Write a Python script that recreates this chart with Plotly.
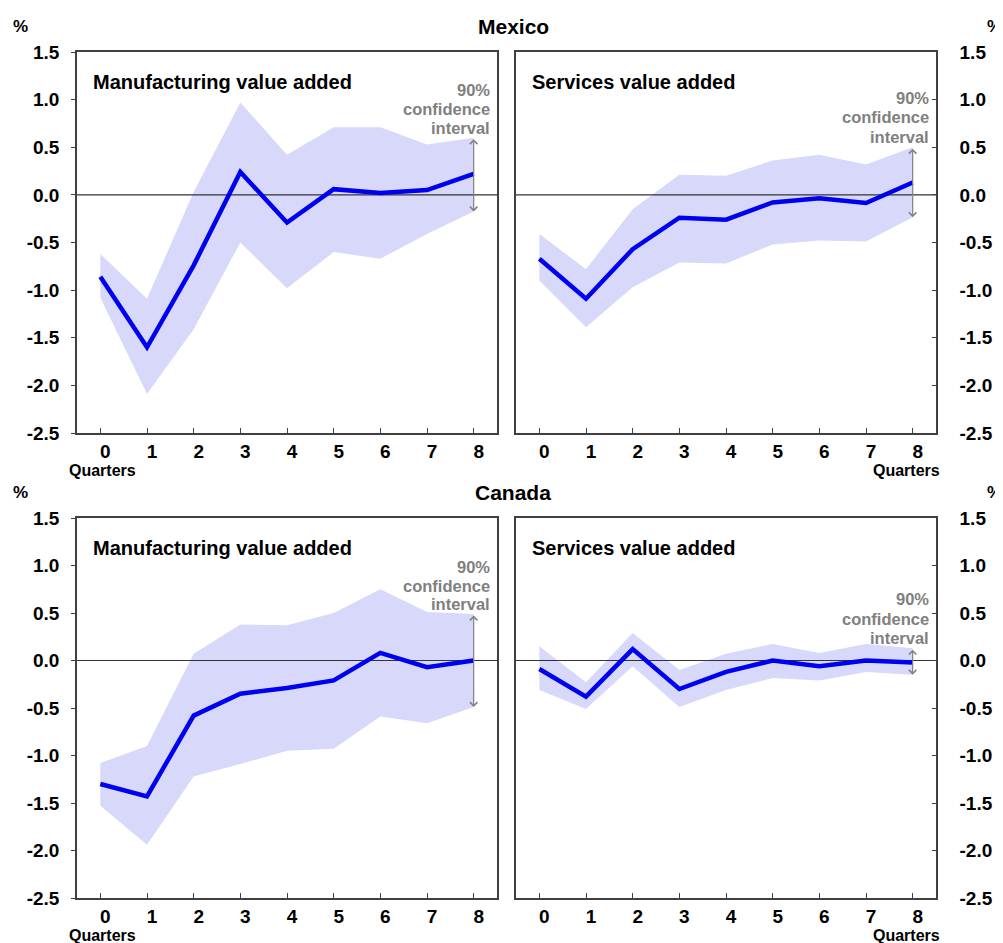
import plotly.graph_objects as go

# Browser window 1003x943; the page body has an 8px margin at top/left, so the
# figure is sized to end at the window edges and positions are measured from
# the window corner.
WIN_W, WIN_H = 1003, 943
OFF = 8
W, H = WIN_W - OFF, WIN_H - OFF

quarters = [0, 1, 2, 3, 4, 5, 6, 7, 8]
tick_labels = ["0", "1", "2", "3", "4", "5", "6", "7", "8"]
y_ticks = [1.5, 1.0, 0.5, 0.0, -0.5, -1.0, -1.5, -2.0, -2.5]
y_tick_labels = ["1.5", "1.0", "0.5", "0.0", "-0.5", "-1.0", "-1.5", "-2.0", "-2.5"]

# Mexico - manufacturing
mx_man = [-0.86, -1.60, -0.74, 0.24, -0.29, 0.06, 0.02, 0.05, 0.22]
mx_man_hi = [-0.62, -1.09, 0.03, 0.97, 0.42, 0.71, 0.71, 0.53, 0.60]
mx_man_lo = [-1.08, -2.09, -1.41, -0.50, -0.98, -0.60, -0.67, -0.41, -0.175]
# Mexico - services
mx_srv = [-0.67, -1.09, -0.57, -0.24, -0.26, -0.08, -0.035, -0.085, 0.13]
mx_srv_hi = [-0.41, -0.78, -0.15, 0.21, 0.20, 0.36, 0.42, 0.32, 0.50]
mx_srv_lo = [-0.90, -1.39, -0.97, -0.71, -0.72, -0.52, -0.48, -0.49, -0.235]
# Canada - manufacturing
ca_man = [-1.30, -1.43, -0.58, -0.35, -0.29, -0.21, 0.08, -0.07, 0.0]
ca_man_hi = [-1.08, -0.90, 0.07, 0.38, 0.37, 0.50, 0.75, 0.51, 0.49]
ca_man_lo = [-1.53, -1.94, -1.22, -1.09, -0.95, -0.93, -0.59, -0.66, -0.49]
# Canada - services
ca_srv = [-0.09, -0.38, 0.12, -0.30, -0.12, 0.0, -0.06, 0.0, -0.02]
ca_srv_hi = [0.15, -0.23, 0.29, -0.10, 0.07, 0.175, 0.08, 0.175, 0.13]
ca_srv_lo = [-0.31, -0.51, -0.06, -0.49, -0.31, -0.185, -0.21, -0.12, -0.15]

FONT = "Liberation Sans, Arial, sans-serif"
BAND = "#D8D8FB"
LINE = "#0000F0"
AXC = "#404040"
GREY = "#808080"

panels = [
    dict(v=mx_man, hi=mx_man_hi, lo=mx_man_lo, sub="Manufacturing value added",
         x0=77, x1=497, y0=52, y1=433, side="left", ci=[90, 109, 128], ci_x=492, q="left"),
    dict(v=mx_srv, hi=mx_srv_hi, lo=mx_srv_lo, sub="Services value added",
         x0=516, x1=936, y0=52, y1=433, side="right", ci=[98, 117, 137], ci_x=931, q="right"),
    dict(v=ca_man, hi=ca_man_hi, lo=ca_man_lo, sub="Manufacturing value added",
         x0=77, x1=497, y0=518, y1=898, side="left", ci=[567, 586, 604], ci_x=492, q="left"),
    dict(v=ca_srv, hi=ca_srv_hi, lo=ca_srv_lo, sub="Services value added",
         x0=516, x1=936, y0=518, y1=898, side="right", ci=[599, 619, 638], ci_x=931, q="right"),
]

XR = [-0.5, 8.5]
YR = [-2.5, 1.5]

fig = go.Figure()
annotations = []


def px_x(p):
    return (p - OFF) / W


def px_y(p):
    return 1 - (p - OFF) / H


for i, p in enumerate(panels, start=1):
    xa = "x" if i == 1 else f"x{i}"
    ya = "y" if i == 1 else f"y{i}"
    fig.add_trace(go.Scatter(x=quarters, y=p["lo"], mode="lines", line=dict(width=0, color=BAND),
                             showlegend=False, hoverinfo="skip", xaxis=xa, yaxis=ya))
    fig.add_trace(go.Scatter(x=quarters, y=p["hi"], mode="lines", line=dict(width=0, color=BAND),
                             fill="tonexty", fillcolor=BAND, showlegend=False, hoverinfo="skip",
                             xaxis=xa, yaxis=ya))
    fig.add_trace(go.Scatter(x=XR, y=[0, 0], mode="lines", line=dict(width=1.2, color="#333333"),
                             showlegend=False, hoverinfo="skip", xaxis=xa, yaxis=ya))
    fig.add_trace(go.Scatter(x=quarters, y=p["v"], mode="lines", line=dict(width=4.5, color=LINE),
                             showlegend=False, xaxis=xa, yaxis=ya))

    xkey = "xaxis" if i == 1 else f"xaxis{i}"
    ykey = "yaxis" if i == 1 else f"yaxis{i}"
    fig.update_layout({
        xkey: dict(domain=[px_x(p["x0"]), px_x(p["x1"])], anchor=ya, range=XR,
                   tickvals=quarters, ticktext=tick_labels, ticks="inside", ticklen=5,
                   tickcolor=AXC, tickwidth=1.2, automargin=False,
                   showline=True, linecolor=AXC, linewidth=1.5, mirror=True,
                   showgrid=False, zeroline=False, ticklabelstandoff=0, ticklabelshift=5,
                   tickfont=dict(family=FONT, size=19, color="black", weight="bold")),
        ykey: dict(domain=[px_y(p["y1"]), px_y(p["y0"])], anchor=xa, range=YR,
                   side=p["side"], tickvals=y_ticks, ticktext=y_tick_labels,
                   ticks="outside" if p["side"] == "left" else "inside", ticklen=4,
                   tickcolor=AXC, tickwidth=1.2, automargin=False,
                   showline=True, linecolor=AXC, linewidth=1.5, mirror=True,
                   showgrid=False, zeroline=False,
                   ticklabelstandoff=8 if p["side"] == "left" else 18,
                   tickfont=dict(family=FONT, size=19, color="black", weight="bold")),
    })

    annotations.append(dict(text=f"<b>{p['sub']}</b>", xref="paper", yref="paper",
                            x=px_x(p["x0"] + 14), y=px_y(p["y0"] + 30), xanchor="left",
                            yanchor="middle", showarrow=False,
                            font=dict(family=FONT, size=20, color="black")))
    for txt, yy in zip(["90%", "confidence", "interval"], p["ci"]):
        annotations.append(dict(text=f"<b>{txt}</b>", xref="paper", yref="paper",
                                x=px_x(p["ci_x"]), y=px_y(yy), xanchor="right", yanchor="middle",
                                showarrow=False, font=dict(family=FONT, size=16.5, color=GREY)))
    annotations.append(dict(text="", xref=xa, yref=ya, x=quarters[-1], y=p["lo"][-1],
                            ax=quarters[-1], ay=p["hi"][-1], axref=xa, ayref=ya,
                            showarrow=True, arrowside="end+start", arrowhead=4,
                            startarrowhead=4, arrowsize=1.2, startarrowsize=1.2,
                            arrowwidth=1.2, arrowcolor=GREY, standoff=0, startstandoff=0))
    qx = 102 if p["q"] == "left" else 906
    annotations.append(dict(text="<b>Quarters</b>", xref="paper", yref="paper",
                            x=px_x(qx), y=px_y(p["y1"] + 37), xanchor="center", yanchor="middle",
                            showarrow=False, borderpad=0,
                            font=dict(family=FONT, size=16, color="black")))

for title, ty in [("Mexico", 27), ("Canada", 493)]:
    annotations.append(dict(text=f"<b>{title}</b>", xref="paper", yref="paper",
                            x=px_x(513), y=px_y(ty), xanchor="center", yanchor="middle",
                            showarrow=False, font=dict(family=FONT, size=21, color="black")))
    for ux in (20, 994):
        annotations.append(dict(text="<b>%</b>", xref="paper", yref="paper",
                                x=px_x(ux), y=px_y(ty), xanchor="center", yanchor="middle",
                                showarrow=False, font=dict(family=FONT, size=17, color="black")))

fig.update_layout(width=W, height=H, margin=dict(l=0, r=0, t=0, b=0, autoexpand=False),
                  paper_bgcolor="white", plot_bgcolor="white",
                  annotations=annotations, showlegend=False)

fig.write_html("out.html")
